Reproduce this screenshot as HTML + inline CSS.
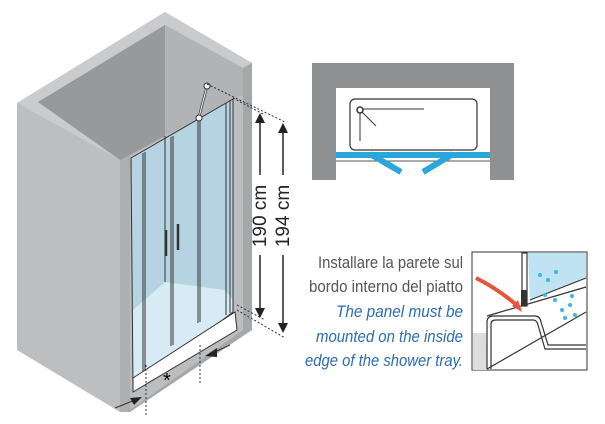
<!DOCTYPE html>
<html><head><meta charset="utf-8"><style>body{margin:0;background:#fff}svg{display:block}</style></head><body>
<svg width="605" height="424" viewBox="0 0 605 424" xmlns="http://www.w3.org/2000/svg" font-family="Liberation Sans, sans-serif">
<!-- walls -->
<polygon points="17,103 165,12 252,63 252,325 130,412 17,350" fill="#bcbdbf"/>
<polygon points="17,103 165,12 252,63 243,68 165,25 38,102 120,160" fill="#cacbcd"/>
<polygon points="17,103 120,160 120,412 17,350" fill="#bdbec0"/>
<polygon points="120,160 130,155 130,410 120,412" fill="#aeafb1"/>
<polygon points="38,102 165,25 165,136 130,155 120,160" fill="#98999b"/>
<polygon points="165,25 243,68 243,95 233,98 165,136" fill="#b2b3b5"/>
<polygon points="243,68 252,63 252,325 243,330" fill="#a6a7a9"/>
<polygon points="120,412 130,410 243,330 252,325 252,330 130,412" fill="#a6a7a9"/>
<!-- glass -->
<polygon points="131,158 233,99 233,312 133,388" fill="#b5d3e0"/>
<polygon points="133,310 165,282 225,290 233,300 233,312 133,388" fill="#d6ebf4"/>
<g stroke="#333" stroke-width="1" fill="none">
<polygon points="131,158 233,99 233,312 133,388"/>
<line x1="143" y1="153" x2="143" y2="379"/><line x1="145" y1="152" x2="145" y2="378"/>
<line x1="171" y1="137" x2="171" y2="346"/><line x1="173" y1="136" x2="173" y2="345"/>
<line x1="198" y1="120" x2="198" y2="323"/><line x1="200" y1="119" x2="200" y2="322"/>
<line x1="226" y1="103" x2="226" y2="315"/><line x1="230" y1="101" x2="230" y2="313"/>
<line x1="165" y1="136" x2="165" y2="282"/>
</g>
<line x1="207" y1="86" x2="199" y2="117" stroke="#333" stroke-width="2.5"/>
<line x1="207" y1="86" x2="199" y2="117" stroke="#fff" stroke-width="1"/>
<g stroke="#333" stroke-width="2.5"><line x1="166" y1="230" x2="166" y2="256"/><line x1="178" y1="224" x2="178" y2="250"/></g>
<circle cx="207" cy="86" r="3" fill="#fff" stroke="#333"/><circle cx="199" cy="118" r="3" fill="#fff" stroke="#333"/>
<polygon points="133,378 235,312 237,330 133,392" fill="#fff" stroke="#333"/>
<!-- bottom arrows / dashes -->
<g stroke="#333" fill="none" stroke-dasharray="2,2"><line x1="146" y1="365" x2="146" y2="415"/><line x1="200" y1="345" x2="200" y2="385"/></g>
<text x="163" y="387" font-size="20">*</text>
<line x1="115" y1="408" x2="140" y2="398" stroke="#333"/><polygon points="142,397 130,398 134,405" fill="#222"/>
<line x1="230" y1="345" x2="210" y2="354" stroke="#333"/><polygon points="205,356 217,348 217,357" fill="#222"/>
<!-- dims -->
<g stroke="#333" fill="none" stroke-dasharray="2,2"><line x1="207" y1="84" x2="285" y2="122"/><line x1="233" y1="98" x2="265" y2="115"/><line x1="237" y1="310" x2="285" y2="338"/><line x1="237" y1="305" x2="265" y2="320"/></g>
<g stroke="#222" stroke-width="1.5"><line x1="260" y1="122" x2="260" y2="175"/><line x1="260" y1="255" x2="260" y2="310"/><line x1="283" y1="132" x2="283" y2="175"/><line x1="283" y1="255" x2="283" y2="325"/></g>
<g fill="#222"><polygon points="260,113 255,123 265,123"/><polygon points="260,318 255,308 265,308"/><polygon points="283,123 278,133 288,133"/><polygon points="283,333 278,323 288,323"/></g>
<text transform="translate(266,216) rotate(-90)" font-size="19" text-anchor="middle" fill="#222">190 cm</text>
<text transform="translate(289,216) rotate(-90)" font-size="19" text-anchor="middle" fill="#222">194 cm</text>
<!-- plan -->
<rect x="312" y="63" width="202" height="117" fill="#8f9092"/>
<rect x="336" y="88" width="154" height="92" fill="#fff"/>
<rect x="350" y="99" width="127" height="51" rx="5" fill="none" stroke="#333" stroke-width="1.2"/>
<circle cx="360" cy="110" r="3" fill="none" stroke="#333" stroke-width="1.5"/>
<g stroke="#333"><line x1="363" y1="109" x2="424" y2="109"/><line x1="362" y1="112" x2="376" y2="126"/><line x1="360" y1="113" x2="360" y2="141"/></g>
<line x1="336" y1="161" x2="490" y2="161" stroke="#555"/>
<rect x="336" y="152" width="154" height="6" fill="#2aa6da"/>
<line x1="370" y1="154" x2="401" y2="172" stroke="#2aa6da" stroke-width="6"/>
<line x1="453" y1="154" x2="423" y2="172" stroke="#2aa6da" stroke-width="6"/>
<!-- text -->
<g font-size="17" text-anchor="end">
<text x="463" y="268" fill="#555" textLength="145" lengthAdjust="spacingAndGlyphs">Installare la parete sul</text>
<text x="463" y="292" fill="#555" textLength="154" lengthAdjust="spacingAndGlyphs">bordo interno del piatto</text>
<text x="463" y="317" fill="#2a6db0" font-style="italic" textLength="127" lengthAdjust="spacingAndGlyphs">The panel must be</text>
<text x="463" y="342" fill="#2a6db0" font-style="italic" textLength="147" lengthAdjust="spacingAndGlyphs">mounted on the inside</text>
<text x="463" y="366" fill="#2a6db0" font-style="italic" textLength="158" lengthAdjust="spacingAndGlyphs">edge of the shower tray.</text>
</g>
<!-- detail -->
<rect x="472" y="252" width="115" height="118" fill="#fff" stroke="#333"/>
<polygon points="473,333 486,333 487,370 473,370" fill="#ddd"/>
<polygon points="528,253 586,253 586,278 530,300" fill="#bfe3f2"/>
<g fill="none" stroke="#333" stroke-width="1.2">
<path d="M487,369 L487,322 Q487,316 494,316 L535,316 Q540,316 541,322 L548,345 L586,345"/>
<path d="M491,369 L491,324 Q491,320 496,320 L533,320 Q537,320 538,325 L545,349 L586,349"/>
<line x1="487" y1="316" x2="586" y2="287"/><line x1="530" y1="300" x2="586" y2="278"/>
<line x1="487" y1="369" x2="586" y2="312"/>
<rect x="522" y="253" width="5" height="53"/>
</g>
<rect x="521" y="290" width="6" height="16" fill="#333"/>
<path d="M476,278 Q500,290 520,308" stroke="#e8543c" stroke-width="4" fill="none"/>
<polygon points="522,312 512,306 518,300" fill="#e8543c"/>
<g fill="#3ab8e6"><circle cx="540" cy="275" r="2"/><circle cx="548" cy="280" r="2"/><circle cx="556" cy="272" r="2"/><circle cx="545" cy="295" r="2"/><circle cx="555" cy="300" r="2"/><circle cx="562" cy="310" r="2"/><circle cx="570" cy="305" r="2"/><circle cx="565" cy="318" r="2"/><circle cx="575" cy="315" r="2"/><circle cx="572" cy="296" r="2"/></g>
</svg>
</body></html>
